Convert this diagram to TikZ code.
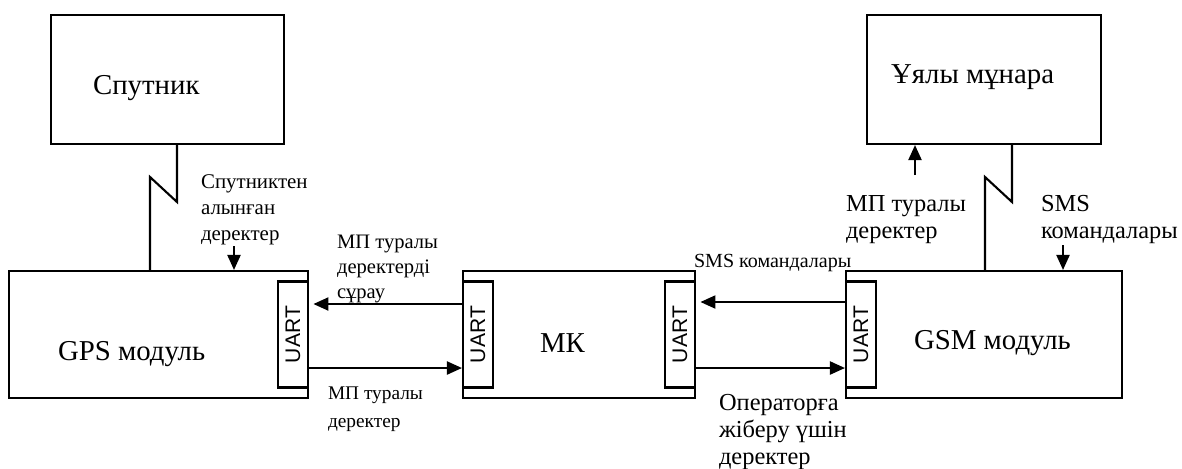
\documentclass[tikz,border=0pt]{standalone}
\usepackage{fontspec}
\setmainfont{Liberation Serif}
\setsansfont{Liberation Sans}
\usepackage{tikz}
\usetikzlibrary{arrows.meta,positioning,calc}

\begin{document}
\begin{tikzpicture}[x=0.02cm,y=-0.02cm,line width=1.2pt,
  blk/.style={draw,inner sep=0pt,minimum height=2.54cm},
  uart/.style={draw,inner sep=0pt,minimum width=0.6cm,minimum height=2.12cm,
    font=\sffamily\fontsize{12}{14}\selectfont},
  blklbl/.style={anchor=base west,inner sep=0pt,font=\fontsize{16.4}{19}\selectfont},
  note/.style={anchor=base west,inner sep=0pt,align=left},
  arr/.style={-{Triangle[length=0.3cm,width=0.26cm]}}]
  \useasboundingbox (0,0) rectangle (1182,468);

  \node[blk,minimum width=4.66cm,minimum height=2.58cm] (sat) at (167.5,79.5) {};
  \node[blk,minimum width=4.68cm,minimum height=2.58cm] (tower) at (984,79.5) {};
  \node[blk,minimum width=5.98cm] (gps) at (158.5,334.5) {};
  \node[blk,minimum width=4.64cm] (mk) at (579,334.5) {};
  \node[blk,minimum width=5.52cm] (gsm) at (984,334.5) {};

  \node[uart,anchor=east] (gpsU) at (gps.east) {\rotatebox{90}{UART}};
  \node[uart,anchor=west] (mkL) at (mk.west) {\rotatebox{90}{UART}};
  \node[uart,anchor=east] (mkR) at (mk.east) {\rotatebox{90}{UART}};
  \node[uart,anchor=west] (gsmU) at (gsm.west) {\rotatebox{90}{UART}};

  \node[blklbl] (satN) at (92,94) {Спутник};
  \node[blklbl] (towerN) at (890,83) {Ұялы мұнара};
  \node[blklbl] (gpsN) at (57,360) {GPS модуль};
  \node[blklbl] (mkN) at (539,352) {МК};
  \node[blklbl] (gsmN) at (913,349) {GSM модуль};

  \node[note,font=\fontsize{11.9}{14.7}\selectfont] (satL) at (200,240)
       {Спутниктен\\алынған\\деректер};
  \node[note,font=\fontsize{11.7}{14.2}\selectfont] (reqL) at (336,298)
       {МП туралы\\деректерді\\сұрау};
  \node[note,font=\fontsize{11}{15.9}\selectfont] (dataL) at (327,427)
       {МП туралы\\деректер};
  \node[note,font=\fontsize{11.4}{13}\selectfont] (smsL) at (693,267)
       {SMS командалары};
  \node[note,font=\fontsize{13.9}{15.3}\selectfont] (opL) at (718,464)
       {Операторға\\жіберу үшін\\деректер};
  \node[note,font=\fontsize{13.9}{15.3}\selectfont] (towerL) at (845,238)
       {МП туралы\\деректер};
  \node[note,font=\fontsize{13.9}{15.3}\selectfont] (cmdL) at (1040,238)
       {SMS\\командалары};

  \coordinate (satIn) at (234,246);
  \coordinate (towerIn) at (915,175);
  \coordinate (gsmIn) at (1063,245);

  \draw (sat.south -| 177,0) -- (177,202) -- (150,177) -- (gps.north -| 150,0);
  \draw (tower.south -| 1012,0) -- (1012,202) -- (985,177) -- (gsm.north -| 985,0);

  \draw[arr] (satIn) -- (gps.north -| satIn);
  \draw[arr] (towerIn) -- (tower.south -| towerIn);
  \draw[arr] (gsmIn) -- (gsm.north -| gsmIn);

  \draw[arr,shorten >=2.5pt] (mk.west |- 0,304) -- (gpsU.east |- 0,304);
  \draw[arr] (gpsU.east |- 0,368) -- (mk.west |- 0,368);
  \draw[arr,shorten >=2.5pt] (gsm.west |- 0,302) -- (mkR.east |- 0,302);
  \draw[arr] (mkR.east |- 0,368) -- (gsm.west |- 0,368);
\end{tikzpicture}
\end{document}
